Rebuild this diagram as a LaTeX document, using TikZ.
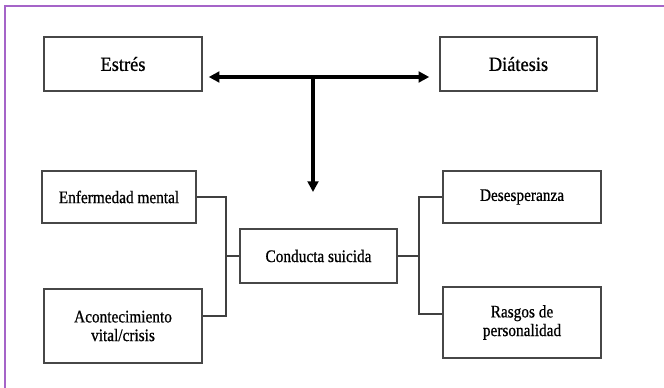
\documentclass[tikz,border=0pt]{standalone}
\usepackage{fontspec}
\setmainfont{Liberation Serif}
\newfontfamily\letragrande[FakeStretch=0.92, FakeBold=0.8]{Liberation Serif}
\newfontfamily\letrachica[FakeStretch=0.87, FakeBold=0.8]{Liberation Serif}
\usetikzlibrary{arrows.meta}
\definecolor{marcomorado}{RGB}{165,100,200}
\tikzset{
  caja/.style={draw=black!72, line width=1.1pt, fill=white, minimum width=118.5pt, minimum height=40.5pt, inner sep=2pt, align=center},
  grande/.style={font=\letragrande\fontsize{15}{17}\selectfont},
  chica/.style={font=\letrachica\fontsize{13.2}{14}\selectfont},
  flecha/.style={line width=2.6pt, -{Triangle[length=8pt,width=8pt]}},
  enlace/.style={draw=black!75, line width=0.9pt},
}
\begin{document}
\begin{tikzpicture}[x=0.75pt,y=0.75pt,yscale=-1]
\useasboundingbox (0,0) rectangle (664,388);

%Shape: Frame [id:marco]
\draw [color=marcomorado, line width=1.4pt]  (5,388) -- (5,6) -- (664,6) ;

%Shape: Rectangle [id:estres]
\node [caja, grande] (estres) at (123,64) {Estrés};
%Shape: Rectangle [id:diatesis]
\node [caja, grande, minimum width=117.75pt] (diatesis) at (518.5,64) {Diátesis};

%Shape: Rectangle [id:enfermedad]
\node [caja, chica, minimum width=115.5pt, minimum height=39pt] (enfermedad) at (119,197) {Enfermedad mental};
%Shape: Rectangle [id:aconte]
\node [caja, chica, minimum height=55.5pt] (aconte) at (123,326) {Acontecimiento\\vital/crisis};
%Shape: Rectangle [id:conducta]
\node [caja, chica, minimum width=117.75pt] (conducta) at (318.5,256) {Conducta suicida};
%Shape: Rectangle [id:desesp]
\node [caja, chica, minimum height=39pt] (desesp) at (522,197) {Desesperanza};
%Shape: Rectangle [id:rasgos]
\node [caja, chica, minimum height=53.25pt] (rasgos) at (522,322.5) {Rasgos de\\personalidad};

% Coordinates
\coordinate (cruce) at (313,77);
\coordinate (punta) at (313,192);
\coordinate (izqbajo) at (226,316);
\coordinate (derbajo) at (419,314);

%Straight Lines [id:flechas]
\draw [flecha, {Triangle[length=8pt,width=8pt]}-{Triangle[length=8pt,width=8pt]}, shorten <=4.5pt, shorten >=7.5pt]  (estres.east |- cruce) -- (diatesis.west |- cruce) ;
\draw [flecha]  (cruce) -- (punta) ;

%Straight Lines [id:corchetes]
\draw [enlace]  (enfermedad.east) -| (izqbajo) -- (izqbajo -| aconte.east) ;
\draw [enlace]  (conducta.west) -- (conducta.west -| izqbajo) ;
\draw [enlace]  (desesp.west) -| (derbajo) -- (derbajo -| rasgos.west) ;
\draw [enlace]  (conducta.east) -- (conducta.east -| derbajo) ;

\end{tikzpicture}
\end{document}
